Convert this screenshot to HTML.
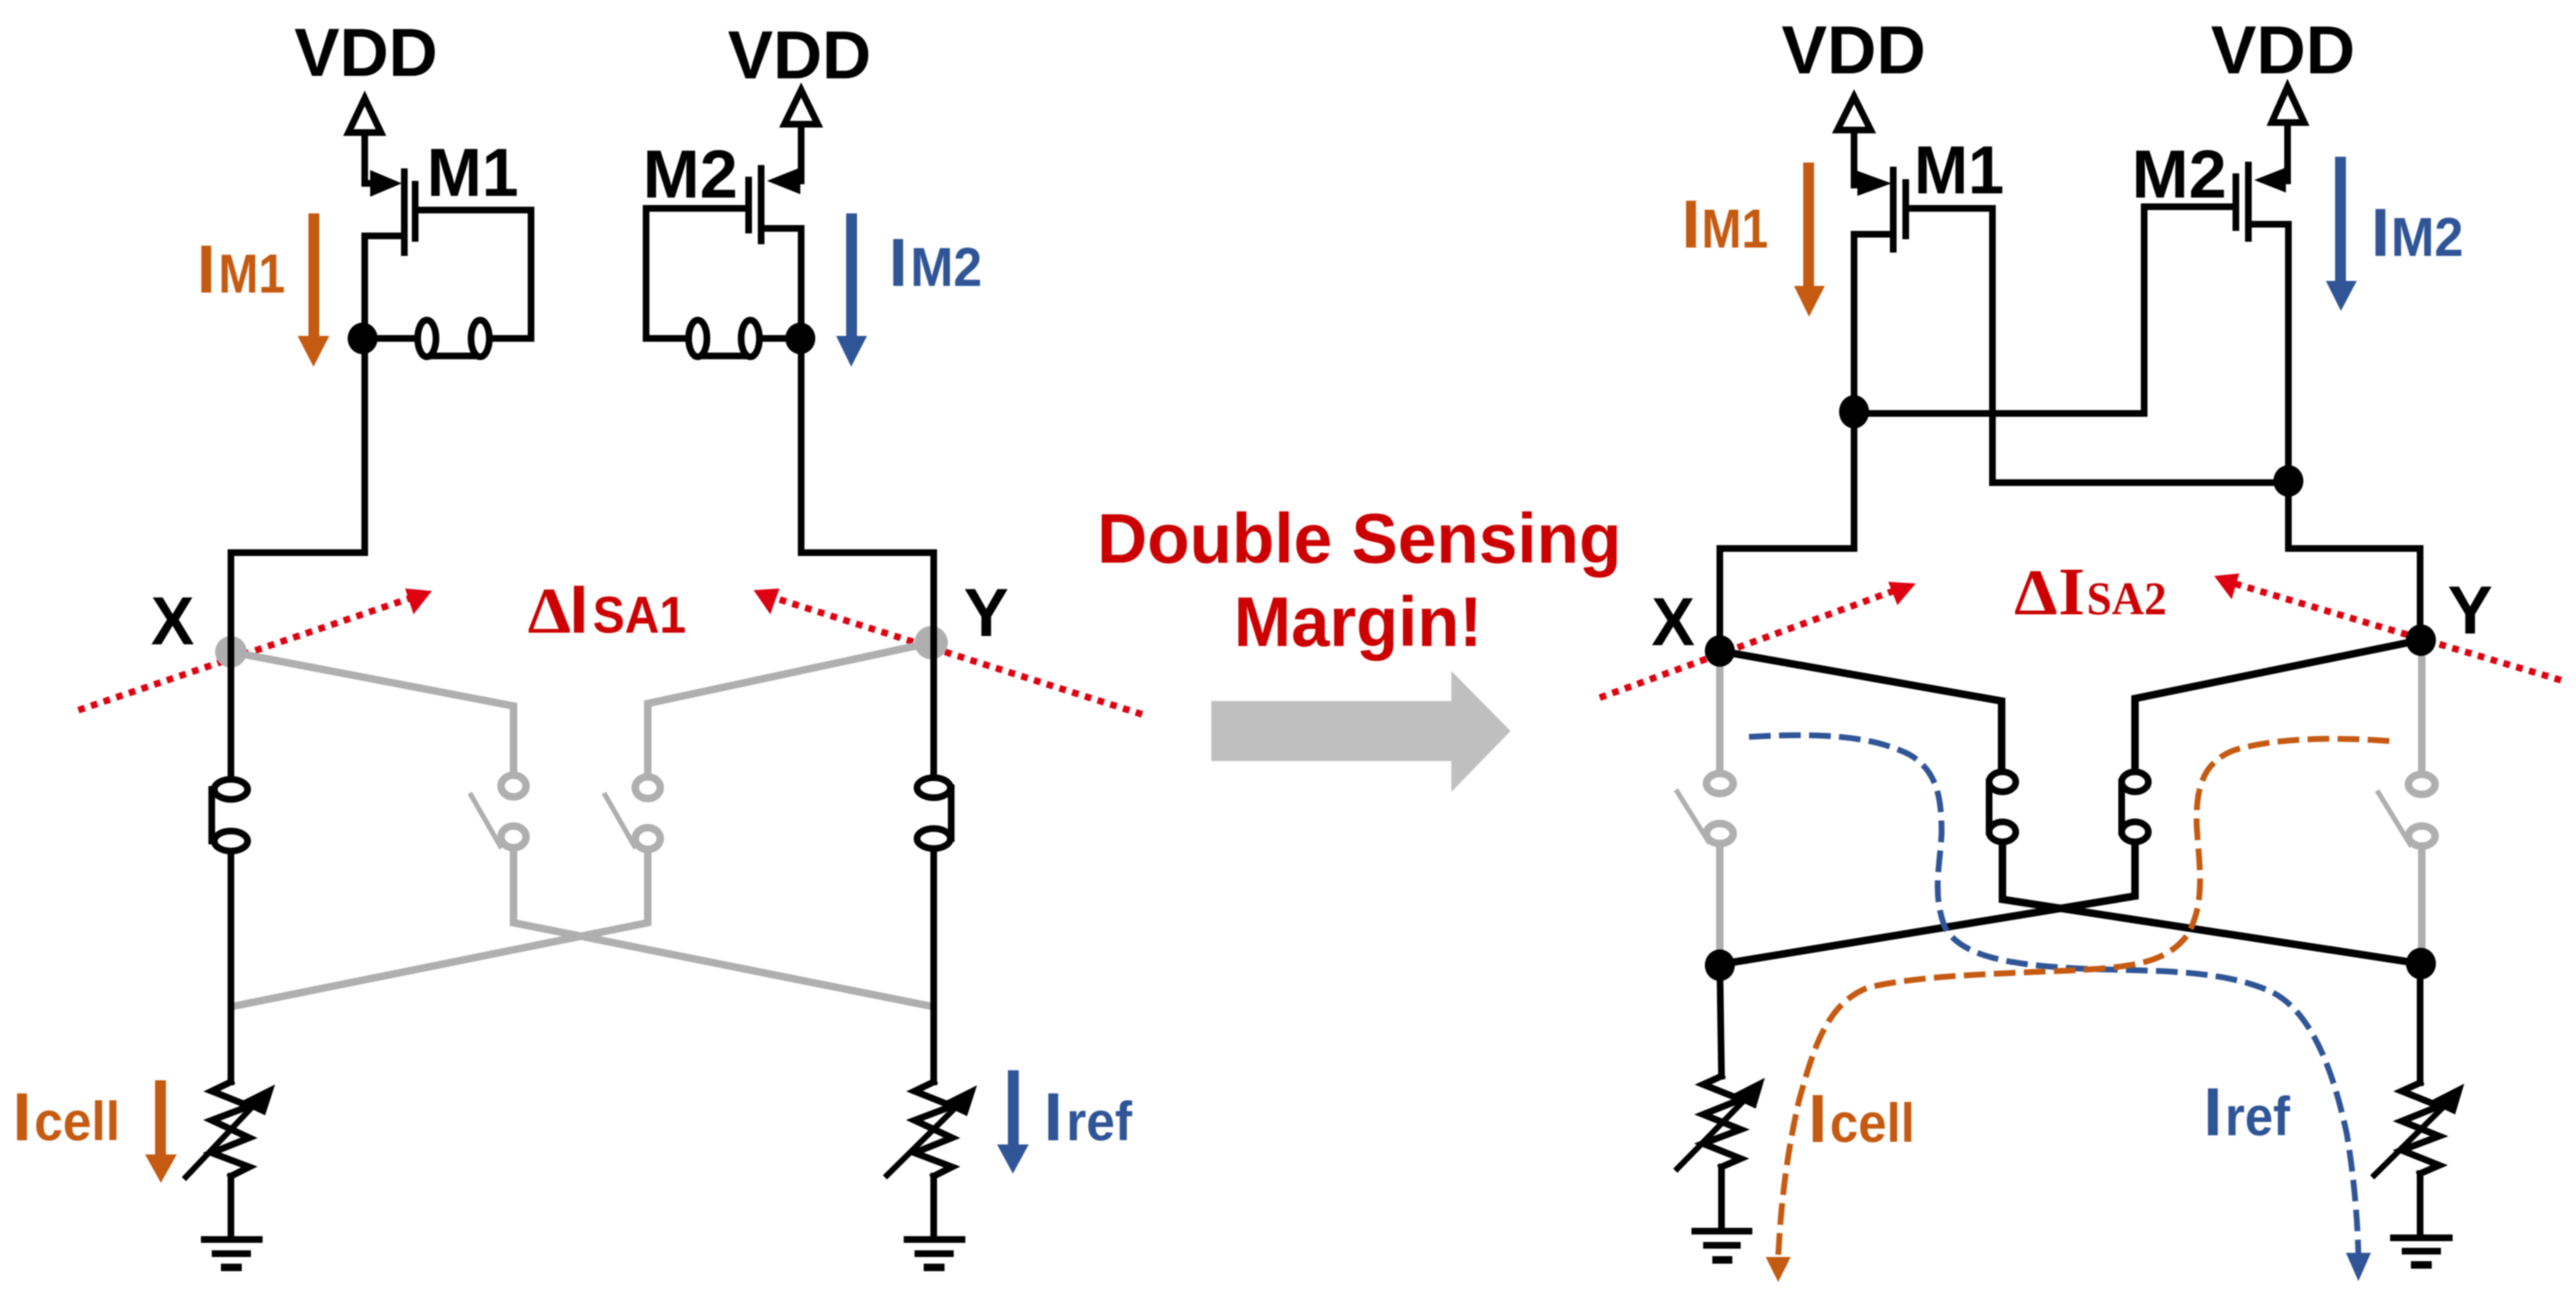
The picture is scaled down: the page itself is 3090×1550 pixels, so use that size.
<!DOCTYPE html>
<html><head><meta charset="utf-8"><title>Double Sensing Margin</title>
<style>html,body{margin:0;padding:0;background:#fff}svg{display:block;filter:blur(.8px)}
text{font-family:"Liberation Sans",sans-serif;font-weight:bold}
.s{font-family:"Liberation Serif",serif}
.k{fill:#000}.o{fill:#C55A11}.b{fill:#2F5597}.r{fill:#CC0000}
.w{fill:none;stroke:#000;stroke-width:8;stroke-linejoin:miter;stroke-linecap:square}
.g{fill:none;stroke:#AFAFAF;stroke-width:9;stroke-linecap:square;stroke-linejoin:miter}
.d{fill:none;stroke:#DD0010;stroke-width:8;stroke-dasharray:8 8}
.e{fill:#fff;stroke:#000;stroke-width:8}
.eg{fill:#fff;stroke:#AFAFAF;stroke-width:9}
</style></head><body>
<svg xmlns="http://www.w3.org/2000/svg" width="3090" height="1550" viewBox="0 0 3090 1550">
<rect width="3090" height="1550" fill="#fff"/>

<!-- dotted red -->
<line class="d" x1="94" y1="852" x2="494" y2="717"/>
<polygon points="518,709 486,706 496,737" fill="#DD0010"/>
<line class="d" x1="1370" y1="857" x2="928" y2="717"/>
<polygon points="904,708 935,706 924,737" fill="#DD0010"/>
<line class="d" x1="1919" y1="837" x2="2274" y2="708"/>
<polygon points="2298,700 2265,698 2276,726" fill="#DD0010"/>
<line class="d" x1="3072" y1="816" x2="2680" y2="700"/>
<polygon points="2656,691 2686,688 2677,719" fill="#DD0010"/>

<!-- ============ LEFT CIRCUIT ============ -->
<circle cx="277" cy="782" r="19" fill="#AFAFAF"/>
<ellipse cx="1117" cy="771" rx="20" ry="20" fill="#AFAFAF"/>
<polyline class="g" points="277,782 616,847 616,929"/>
<polyline class="g" points="1117,771 777,844 777,929"/>
<ellipse class="eg" cx="616" cy="943" rx="15" ry="13"/>
<ellipse class="eg" cx="616" cy="1004" rx="15" ry="13"/>
<ellipse class="eg" cx="777" cy="945" rx="15" ry="13"/>
<ellipse class="eg" cx="777" cy="1006" rx="15" ry="13"/>
<line class="g" x1="565" y1="954" x2="600" y2="1015" style="stroke-width:6"/>
<line class="g" x1="726" y1="954" x2="761" y2="1015" style="stroke-width:6"/>
<polyline class="g" points="616,1020 616,1107 1116,1207"/>
<polyline class="g" points="777,1022 777,1107 281,1207"/>

<polygon points="437.5,118 418,159 457,159" fill="#fff" stroke="#000" stroke-width="8"/>
<polyline class="w" points="437.5,159 437.5,220 450,220"/>
<polygon points="444,204 482,220 444,236" fill="#000"/>
<line class="w" x1="485" y1="206" x2="485" y2="303"/>
<line class="w" x1="498" y1="221" x2="498" y2="286"/>
<polyline class="w" points="498,252 637,252 637,406 590,406"/>
<polyline class="w" points="485,283 437.5,283 437.5,663 277,663 277,932"/>
<line class="w" x1="437.5" y1="406" x2="500" y2="406"/>
<line class="w" x1="512" y1="427" x2="576" y2="427"/>
<ellipse class="e" cx="512" cy="406" rx="11" ry="22" stroke-width="7"/>
<ellipse class="e" cx="576" cy="406" rx="11" ry="22" stroke-width="7"/>
<ellipse cx="435" cy="406" rx="18" ry="19" fill="#000"/>

<polygon points="961,108 941,149 981,149" fill="#fff" stroke="#000" stroke-width="8"/>
<polyline class="w" points="961,149 961,217 950,217"/>
<polygon points="960,201 920,217 960,233" fill="#000"/>
<line class="w" x1="913" y1="202" x2="913" y2="289"/>
<line class="w" x1="898" y1="216" x2="898" y2="276"/>
<polyline class="w" points="898,250 775,250 775,406 825,406"/>
<polyline class="w" points="913,274 961,274 961,663 1120,663 1120,932"/>
<line class="w" x1="910" y1="406" x2="961" y2="406"/>
<line class="w" x1="837" y1="427" x2="900" y2="427"/>
<ellipse class="e" cx="837" cy="406" rx="11" ry="22" stroke-width="7"/>
<ellipse class="e" cx="900" cy="406" rx="11" ry="22" stroke-width="7"/>
<ellipse cx="960" cy="406" rx="18" ry="19" fill="#000"/>

<line class="w" x1="277" y1="663" x2="277" y2="932"/>
<line class="w" x1="277" y1="1022" x2="277" y2="1298"/>
<line class="w" x1="277" y1="1411" x2="277" y2="1487"/>
<line class="w" x1="1120" y1="1020" x2="1120" y2="1298"/>
<line class="w" x1="1120" y1="1411" x2="1120" y2="1487"/>
<line class="w" x1="254" y1="947" x2="254" y2="1009"/>
<line class="w" x1="1141" y1="945" x2="1141" y2="1006"/>
<ellipse class="e" cx="277" cy="947" rx="20" ry="12"/>
<ellipse class="e" cx="277" cy="1009" rx="20" ry="12"/>
<ellipse class="e" cx="1120" cy="945" rx="20" ry="12"/>
<ellipse class="e" cx="1120" cy="1006" rx="20" ry="12"/>

<polyline class="w" points="277,1298 254,1309 299,1327 254,1344 299,1365 254,1383 299,1400 277,1411"/>
<line class="w" x1="223" y1="1412" x2="312" y2="1318" style="stroke-width:7"/>
<polygon points="330,1301 286,1323 318,1338" fill="#000"/>
<polyline class="w" points="1120,1298 1097,1309 1142,1327 1097,1344 1142,1365 1097,1383 1142,1400 1120,1411"/>
<line class="w" x1="1064" y1="1410" x2="1155" y2="1320" style="stroke-width:7"/>
<polygon points="1172,1302 1128,1324 1160,1339" fill="#000"/>

<rect x="241" y="1483" width="74" height="8"/>
<rect x="254" y="1500" width="47" height="8"/>
<rect x="265" y="1516" width="25" height="9"/>
<rect x="1084" y="1483" width="74" height="8"/>
<rect x="1097" y="1500" width="47" height="8"/>
<rect x="1108" y="1516" width="25" height="9"/>

<rect x="370" y="256" width="13" height="148" class="o"/>
<polygon points="357,403 395,403 376,440" class="o"/>
<rect x="1015" y="256" width="13" height="148" class="b"/>
<polygon points="1003,403 1040,403 1021,440" class="b"/>
<rect x="186" y="1296" width="13" height="90" class="o"/>
<polygon points="174,1385 212,1385 193,1419" class="o"/>
<rect x="1209" y="1284" width="13" height="90" class="b"/>
<polygon points="1196,1373 1234,1373 1215,1408" class="b"/>

<text x="353" y="91" font-size="82" textLength="172" lengthAdjust="spacingAndGlyphs" class="k">VDD</text>
<text x="873" y="94" font-size="82" textLength="172" lengthAdjust="spacingAndGlyphs" class="k">VDD</text>
<text x="512" y="235" font-size="82" textLength="110" lengthAdjust="spacingAndGlyphs" class="k">M1</text>
<text x="771" y="237" font-size="82" textLength="114" lengthAdjust="spacingAndGlyphs" class="k">M2</text>
<text x="236" y="351" font-size="82" class="o">I</text>
<text x="262" y="351" font-size="66" textLength="80" lengthAdjust="spacingAndGlyphs" class="o">M1</text>
<text x="1066" y="343" font-size="82" class="b">I</text>
<text x="1092" y="343" font-size="66" textLength="86" lengthAdjust="spacingAndGlyphs" class="b">M2</text>
<text x="15" y="1368" font-size="82" class="o">I</text>
<text x="41" y="1368" font-size="66" textLength="103" lengthAdjust="spacingAndGlyphs" class="o">cell</text>
<text x="1252" y="1368" font-size="82" class="b">I</text>
<text x="1279" y="1368" font-size="66" textLength="79" lengthAdjust="spacingAndGlyphs" class="b">ref</text>
<text x="181" y="773" font-size="82" textLength="52" lengthAdjust="spacingAndGlyphs" class="k">X</text>
<text x="1156" y="763" font-size="82" textLength="54" lengthAdjust="spacingAndGlyphs" class="k">Y</text>
<text x="633" y="759" font-size="78" textLength="52" lengthAdjust="spacingAndGlyphs" class="r s">Δ</text>
<text x="683" y="759" font-size="82" class="r">I</text>
<text x="711" y="759" font-size="62" textLength="112" lengthAdjust="spacingAndGlyphs" class="r">SA1</text>

<!-- ============ CENTER ============ -->
<text x="1316" y="675" font-size="84" textLength="629" lengthAdjust="spacingAndGlyphs" class="r">Double Sensing</text>
<text x="1480" y="775" font-size="84" textLength="298" lengthAdjust="spacingAndGlyphs" class="r">Margin!</text>
<polygon points="1453,841 1741,841 1741,805 1812,877 1741,950 1741,913 1453,913" fill="#BFBFBF"/>

<!-- ============ RIGHT CIRCUIT ============ -->
<line class="g" x1="2063" y1="781" x2="2063" y2="926"/>
<line class="g" x1="2063" y1="1014" x2="2063" y2="1158"/>
<line class="g" x1="2905" y1="768" x2="2905" y2="927"/>
<line class="g" x1="2905" y1="1017" x2="2905" y2="1156"/>
<ellipse class="eg" cx="2063" cy="940" rx="16" ry="12"/>
<ellipse class="eg" cx="2063" cy="1000" rx="16" ry="12"/>
<ellipse class="eg" cx="2905" cy="941" rx="16" ry="12"/>
<ellipse class="eg" cx="2905" cy="1003" rx="16" ry="12"/>
<line class="g" x1="2012" y1="950" x2="2049" y2="1009" style="stroke-width:6"/>
<line class="g" x1="2853" y1="951" x2="2891" y2="1013" style="stroke-width:6"/>

<polygon points="2224,116 2204,156 2244,156" fill="#fff" stroke="#000" stroke-width="8"/>
<polyline class="w" points="2224,156 2224,222 2236,222"/>
<polygon points="2228,205 2269,220 2228,235" fill="#000"/>
<line class="w" x1="2271" y1="204" x2="2271" y2="299"/>
<line class="w" x1="2286" y1="219" x2="2286" y2="283"/>
<polyline class="w" points="2286,250 2390,250 2390,579 2745,579"/>
<polyline class="w" points="2271,281 2224,281 2224,658 2063,658 2063,781"/>
<polyline class="w" points="2224,496 2572,496 2572,248 2682,248"/>

<polygon points="2744,104 2725,147 2764,147" fill="#fff" stroke="#000" stroke-width="8"/>
<polyline class="w" points="2744,147 2744,217 2732,217"/>
<polygon points="2742,201 2704,216 2742,231" fill="#000"/>
<line class="w" x1="2697" y1="198" x2="2697" y2="286"/>
<line class="w" x1="2682" y1="212" x2="2682" y2="273"/>
<polyline class="w" points="2697,269 2745,269 2745,658 2903,658 2903,768"/>
<ellipse cx="2224" cy="494" rx="18" ry="20" fill="#000"/>
<ellipse cx="2745" cy="577" rx="18" ry="19" fill="#000"/>

<polyline class="w" points="2063,781 2401,841 2401,924" style="stroke-width:9"/>
<polyline class="w" points="2903,768 2561,838 2561,924" style="stroke-width:9"/>
<polyline class="w" points="2402,1013 2402,1079 2903,1156" style="stroke-width:9"/>
<polyline class="w" points="2561,1013 2561,1075 2063,1157" style="stroke-width:9"/>
<line class="w" x1="2386" y1="938" x2="2386" y2="998"/>
<line class="w" x1="2545" y1="938" x2="2545" y2="998"/>
<ellipse class="e" cx="2402" cy="938" rx="16" ry="12"/>
<ellipse class="e" cx="2402" cy="998" rx="16" ry="12"/>
<ellipse class="e" cx="2561" cy="938" rx="16" ry="12"/>
<ellipse class="e" cx="2561" cy="998" rx="16" ry="12"/>
<ellipse cx="2063" cy="781" rx="18" ry="19" fill="#000"/>
<ellipse cx="2904" cy="768" rx="18" ry="19" fill="#000"/>
<ellipse cx="2063" cy="1158" rx="18" ry="19" fill="#000"/>
<ellipse cx="2904" cy="1156" rx="18" ry="19" fill="#000"/>

<line class="w" x1="2063" y1="1158" x2="2065" y2="1291"/>
<line class="w" x1="2065" y1="1400" x2="2065" y2="1477"/>
<line class="w" x1="2903" y1="1156" x2="2903" y2="1299"/>
<line class="w" x1="2903" y1="1408" x2="2903" y2="1485"/>
<polyline class="w" points="2065,1291 2043,1301 2088,1319 2043,1337 2088,1355 2043,1372 2088,1390 2065,1400"/>
<polyline class="w" points="2903,1299 2881,1309 2926,1327 2881,1345 2926,1363 2881,1380 2926,1398 2903,1408"/>
<line class="w" x1="2012" y1="1402" x2="2100" y2="1312" style="stroke-width:7"/>
<polygon points="2117,1293 2074,1315 2106,1330" fill="#000"/>
<line class="w" x1="2848" y1="1410" x2="2939" y2="1320" style="stroke-width:7"/>
<polygon points="2956,1300 2913,1322 2945,1337" fill="#000"/>
<rect x="2029" y="1473" width="73" height="8"/>
<rect x="2043" y="1490" width="45" height="8"/>
<rect x="2054" y="1507" width="24" height="9"/>
<rect x="2867" y="1481" width="75" height="8"/>
<rect x="2881" y="1497" width="47" height="8"/>
<rect x="2892" y="1513" width="25" height="9"/>

<path d="M2098,884 C2170,880 2240,880 2290,905 C2325,925 2329,960 2329,1000 C2327,1040 2318,1070 2332,1110 C2350,1150 2420,1160 2524,1163 C2600,1165 2670,1165 2725,1190 C2775,1215 2800,1290 2815,1360 C2825,1420 2828,1470 2829,1505" fill="none" stroke="#2F5597" stroke-width="7" stroke-dasharray="26 10"/>
<polygon points="2814,1503 2844,1503 2829,1537" class="b"/>
<path d="M2866,889 C2800,884 2730,885 2680,900 C2640,915 2634,950 2635,990 C2638,1040 2646,1080 2625,1120 C2600,1155 2560,1160 2490,1164 C2400,1168 2300,1170 2240,1185 C2190,1205 2175,1260 2158,1320 C2142,1390 2136,1450 2133,1508" fill="none" stroke="#C55A11" stroke-width="7" stroke-dasharray="26 10"/>
<polygon points="2118,1508 2148,1508 2133,1538" class="o"/>

<rect x="2163" y="195" width="13" height="149" class="o"/>
<polygon points="2152,343 2189,343 2170,380" class="o"/>
<rect x="2801" y="188" width="13" height="150" class="b"/>
<polygon points="2790,337 2827,337 2808,373" class="b"/>

<text x="2137" y="88" font-size="82" textLength="173" lengthAdjust="spacingAndGlyphs" class="k">VDD</text>
<text x="2652" y="88" font-size="82" textLength="173" lengthAdjust="spacingAndGlyphs" class="k">VDD</text>
<text x="2296" y="232" font-size="82" textLength="108" lengthAdjust="spacingAndGlyphs" class="k">M1</text>
<text x="2557" y="237" font-size="82" textLength="114" lengthAdjust="spacingAndGlyphs" class="k">M2</text>
<text x="2017" y="297" font-size="82" class="o">I</text>
<text x="2041" y="297" font-size="66" textLength="80" lengthAdjust="spacingAndGlyphs" class="o">M1</text>
<text x="2844" y="307" font-size="82" class="b">I</text>
<text x="2868" y="307" font-size="66" textLength="87" lengthAdjust="spacingAndGlyphs" class="b">M2</text>
<text x="2169" y="1370" font-size="82" class="o">I</text>
<text x="2195" y="1370" font-size="66" textLength="102" lengthAdjust="spacingAndGlyphs" class="o">cell</text>
<text x="2643" y="1362" font-size="82" class="b">I</text>
<text x="2669" y="1362" font-size="66" textLength="78" lengthAdjust="spacingAndGlyphs" class="b">ref</text>
<text x="1981" y="774" font-size="82" textLength="52" lengthAdjust="spacingAndGlyphs" class="k">X</text>
<text x="2936" y="760" font-size="82" textLength="54" lengthAdjust="spacingAndGlyphs" class="k">Y</text>
<text x="2416" y="737" font-size="78" textLength="52" lengthAdjust="spacingAndGlyphs" class="r s">Δ</text>
<text x="2469" y="737" font-size="82" class="r s">I</text>
<text x="2503" y="737" font-size="56" textLength="96" lengthAdjust="spacingAndGlyphs" class="r s">SA2</text>
</svg>
</body></html>
